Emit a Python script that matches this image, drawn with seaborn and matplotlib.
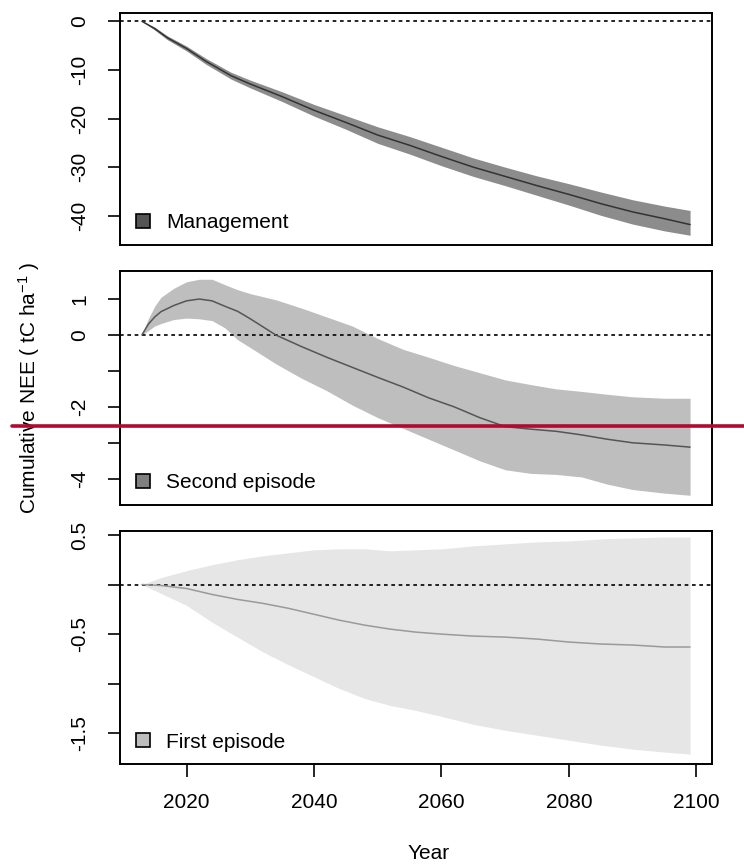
import matplotlib
matplotlib.use("Agg")
import matplotlib.pyplot as plt
import seaborn as sns
import pandas as pd
from matplotlib.patches import Patch
from matplotlib.lines import Line2D

# ---- data ----
mgmt_years = [2013, 2015, 2017, 2020, 2023, 2027, 2030, 2035, 2040, 2045, 2050,
              2055, 2060, 2065, 2070, 2075, 2080, 2085, 2090, 2095, 2099]
mgmt_mean = [0, -1.5, -3.4, -5.6, -8.2, -11.2, -12.9, -15.5, -18.3, -20.8, -23.4,
             -25.5, -27.8, -30.0, -31.9, -33.8, -35.6, -37.5, -39.2, -40.6, -41.8]
mgmt_lo = [0, -1.8, -3.8, -6.1, -8.8, -11.9, -13.7, -16.5, -19.5, -22.2, -25.1,
           -27.3, -29.7, -31.9, -33.8, -35.8, -37.8, -39.9, -41.7, -43.1, -44.0]
mgmt_hi = [0, -1.2, -3.0, -5.1, -7.6, -10.5, -12.1, -14.5, -17.1, -19.4, -21.7,
           -23.7, -25.9, -28.1, -30.0, -31.8, -33.4, -35.1, -36.7, -38.0, -38.9]

sec_years = [2013, 2014, 2015, 2016, 2018, 2020, 2022, 2024, 2026, 2028, 2030, 2034,
             2038, 2042, 2046, 2050, 2054, 2058, 2062, 2066, 2070, 2074, 2078, 2082,
             2086, 2090, 2095, 2099]
sec_mean = [0, 0.3, 0.5, 0.65, 0.82, 0.95, 1.0, 0.95, 0.8, 0.66, 0.45, 0.0,
            -0.32, -0.62, -0.9, -1.18, -1.45, -1.75, -2.0, -2.3, -2.55, -2.62, -2.68, -2.78,
            -2.9, -3.0, -3.06, -3.12]
sec_hi = [0, 0.45, 0.8, 1.05, 1.3, 1.48, 1.55, 1.55, 1.4, 1.26, 1.15, 0.98,
          0.75, 0.5, 0.25, -0.1, -0.4, -0.62, -0.85, -1.05, -1.25, -1.38, -1.5, -1.57,
          -1.65, -1.72, -1.76, -1.76]
sec_lo = [0, 0.12, 0.25, 0.32, 0.43, 0.47, 0.45, 0.4, 0.2, -0.13, -0.35, -0.8,
          -1.2, -1.55, -1.95, -2.3, -2.6, -2.9, -3.2, -3.5, -3.75, -3.85, -3.88, -3.95,
          -4.15, -4.3, -4.4, -4.46]

first_years = [2013, 2016, 2020, 2024, 2028, 2032, 2036, 2040, 2044, 2048, 2052,
               2056, 2060, 2065, 2070, 2075, 2080, 2085, 2090, 2095, 2099]
first_mean = [0, -0.01, -0.04, -0.1, -0.15, -0.19, -0.24, -0.3, -0.36, -0.41, -0.45,
              -0.48, -0.5, -0.52, -0.53, -0.55, -0.58, -0.6, -0.61, -0.63, -0.63]
first_hi = [0, 0.07, 0.14, 0.2, 0.25, 0.29, 0.32, 0.35, 0.36, 0.36, 0.34,
            0.35, 0.36, 0.39, 0.41, 0.43, 0.44, 0.46, 0.47, 0.48, 0.48]
first_lo = [0, -0.09, -0.21, -0.38, -0.53, -0.68, -0.81, -0.93, -1.05, -1.15, -1.22,
            -1.27, -1.33, -1.41, -1.47, -1.52, -1.57, -1.62, -1.66, -1.69, -1.71]

panel_names = ["Management", "Second episode", "First episode"]
x_ticks = [2020, 2040, 2060, 2080, 2100]
y_ticks = [[0, -10, -20, -30, -40], [1, 0, -1, -2, -3, -4], [0.5, 0, -0.5, -1, -1.5]]
y_ticklabels = [["0", "-10", "-20", "-30", "-40"], ["1", "0", "", "-2", "", "-4"],
                ["0.5", "", "-0.5", "", "-1.5"]]
y_limits = [(-46.0, 1.7), (-4.73, 1.78), (-1.81, 0.54)]

# ---- style ----
sns.set_style("ticks")
plt.rcParams["font.family"] = ["Liberation Sans", "DejaVu Sans"]
plt.rcParams["axes.unicode_minus"] = False
plt.rcParams["mathtext.fontset"] = "custom"
plt.rcParams["mathtext.rm"] = "Liberation Sans"
plt.rcParams["mathtext.it"] = "Liberation Sans:italic"
plt.rcParams["mathtext.bf"] = "Liberation Sans:bold"
for k in ["text.color", "axes.labelcolor", "xtick.color", "ytick.color", "axes.edgecolor"]:
    plt.rcParams[k] = "black"

band_colors = ["#8c8c8c", "#bebebe", "#e6e6e6"]
line_colors = ["#333333", "#555555", "#9a9a9a"]
legend_colors = ["#555555", "#808080", "#bebebe"]

fig = plt.figure(figsize=(7.44, 8.65), dpi=100)
L, W = 120 / 744, 592 / 744
boxes = [(13, 245), (271, 505), (531, 764)]
axes = []
for top, bot in boxes:
    ax = fig.add_axes([L, 1 - bot / 865, W, (bot - top) / 865])
    axes.append(ax)

series = [
    (mgmt_years, mgmt_mean, mgmt_lo, mgmt_hi),
    (sec_years, sec_mean, sec_lo, sec_hi),
    (first_years, first_mean, first_lo, first_hi),
]

FS = 15
for i, (ax, (yrs, mean, lo, hi)) in enumerate(zip(axes, series)):
    df = pd.DataFrame({"Year": yrs, "mean": mean, "lo": lo, "hi": hi})
    ax.fill_between(df["Year"], df["lo"], df["hi"], color=band_colors[i], lw=0, zorder=1)
    ax.axhline(0, color="black", lw=1.2, ls=(0, (2.2, 2.2)), zorder=2)
    sns.lineplot(data=df, x="Year", y="mean", ax=ax, color=line_colors[i], lw=1.1,
                 zorder=3, legend=False)
    ax.set_xlim(2009.56, 2102.44)
    ax.set_ylim(*y_limits[i])
    ax.set_yticks(y_ticks[i])
    ax.set_yticklabels(y_ticklabels[i], rotation=90, va="center", fontsize=FS,
                       color="black")
    ax.tick_params(axis="y", length=9, width=1.2, pad=13, colors="black")
    ax.set_ylabel("")
    for s in ax.spines.values():
        s.set_visible(True)
        s.set_linewidth(1.4)
        s.set_color("black")
    if i < 2:
        ax.set_xticks([])
        ax.set_xlabel("")
    else:
        ax.set_xticks(x_ticks)
        ax.set_xticklabels([str(t) for t in x_ticks], fontsize=FS, color="black")
        ax.tick_params(axis="x", length=9, width=1.2, pad=12, colors="black")
        ax.set_xlabel("Year", fontsize=FS, labelpad=18, color="black")
        ax.xaxis.set_label_coords(0.522, -0.343)
    handle = Patch(facecolor=legend_colors[i], edgecolor="black", lw=1.2)
    ax.legend([handle], [panel_names[i]], loc="lower left", frameon=False,
              bbox_to_anchor=(0.006, 0.0), labelcolor="black",
              fontsize=FS, handlelength=0.65, handleheight=0.65, handletextpad=0.8,
              borderaxespad=0.25, borderpad=0.35)

fig.text(29 / 744, 1 - 388 / 865, r"Cumulative NEE ( tC ha$^{-1}$ )", rotation=90,
         ha="center", va="center", fontsize=FS, color="black")

# horizontal red rule present in the reference image
fig.add_artist(Line2D([12 / 744, 1.0], [1 - 426 / 865, 1 - 426 / 865],
                      transform=fig.transFigure, color="#b00a30", lw=2.6, zorder=10))

fig.savefig("out.png", dpi=100)
